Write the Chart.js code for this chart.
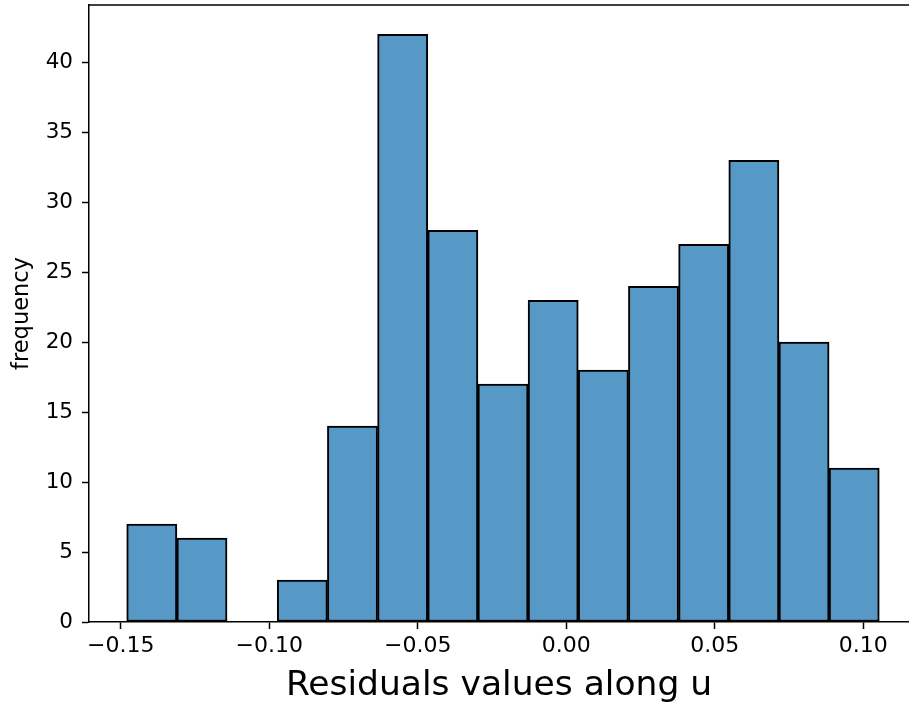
<!DOCTYPE html>
<html>
<head>
<meta charset="utf-8">
<script src="https://cdn.jsdelivr.net/npm/chart.js@4"></script>
<style>
  html, body { margin: 0; padding: 0; background: #fff; overflow: hidden; }
  #wrap { width: 909px; height: 707px; position: relative; }
</style>
</head>
<body>
<div id="wrap"><canvas id="hist"></canvas></div>
<script>
// bin edges (15 bins)
const binEdges = [-0.1480, -0.13111, -0.11421, -0.09732, -0.08043, -0.06353, -0.04664, -0.02975,
                  -0.01286, 0.00404, 0.02093, 0.03782, 0.05472, 0.07161, 0.08850, 0.1054];
const counts = [7, 6, 0, 3, 14, 42, 28, 17, 23, 18, 24, 27, 33, 20, 11];
const xTicks = [-0.15, -0.10, -0.05, 0.00, 0.05, 0.10];
const yTicks = [0, 5, 10, 15, 20, 25, 30, 35, 40];

const xMin = -0.1607, xMax = 0.1154;
const yMax = 44.1;

Chart.defaults.font.family = "'DejaVu Sans', sans-serif";
Chart.defaults.color = '#000';
Chart.defaults.plugins.legend.display = false;
Chart.defaults.plugins.tooltip.enabled = false;

const points = counts.map((c, i) => ({ x: (binEdges[i] + binEdges[i + 1]) / 2, y: c }));

const fmtX = v => v.toFixed(2).replace('-', '\u2212');

// top spine, drawn by hand since matplotlib has one and chart.js doesn't
const topSpine = {
  id: 'topSpine',
  afterDraw(chart) {
    const { ctx, chartArea: a } = chart;
    ctx.save();
    ctx.strokeStyle = '#000';
    ctx.lineWidth = 1.5;
    ctx.beginPath();
    ctx.moveTo(a.left, a.top);
    ctx.lineTo(a.right, a.top);
    ctx.stroke();
    ctx.restore();
  }
};

new Chart(document.getElementById('hist'), {
  type: 'bar',
  data: {
    datasets: [{
      data: points,
      backgroundColor: '#5799c6',
      borderColor: '#000',
      borderWidth: 2,
      borderSkipped: false,
      barPercentage: 1.0,
      categoryPercentage: 1.0
    }]
  },
  plugins: [topSpine],
  options: {
    responsive: true,
    maintainAspectRatio: false,
    animation: false,
    layout: { padding: { top: 5, right: 0, bottom: 0, left: 0 } },
    scales: {
      x: {
        type: 'linear',
        position: 'bottom',
        min: xMin,
        max: xMax,
        offset: false,
        afterBuildTicks: s => { s.ticks = xTicks.map(v => ({ value: v })); },
        afterFit: s => { s.height = 85; },
        ticks: {
          font: { size: 22 },
          padding: 4,
          maxRotation: 0,
          autoSkip: false,
          callback: v => fmtX(v)
        },
        grid: {
          display: true,
          drawOnChartArea: false,
          drawTicks: true,
          tickLength: 7,
          tickWidth: 1.5,
          tickColor: '#000',
          offset: false
        },
        border: { display: true, color: '#000', width: 1.5 },
        title: {
          display: true,
          text: 'Residuals values along u',
          font: { size: 34.5 },
          padding: { top: 0, bottom: 0 }
        }
      },
      y: {
        type: 'linear',
        min: 0,
        max: yMax,
        afterBuildTicks: s => { s.ticks = yTicks.map(v => ({ value: v })); },
        afterFit: s => { s.width = 89; s.paddingTop = 0; s.paddingBottom = 0; },
        ticks: { font: { size: 21.5 }, padding: 9 },
        grid: {
          display: true,
          drawOnChartArea: false,
          drawTicks: true,
          tickLength: 7,
          tickWidth: 1.5,
          tickColor: '#000'
        },
        border: { display: true, color: '#000', width: 1.5 },
        title: {
          display: true,
          text: 'frequency',
          font: { size: 22.5 },
          padding: { top: 9, bottom: 0 }
        }
      }
    }
  }
});
</script>
</body>
</html>
